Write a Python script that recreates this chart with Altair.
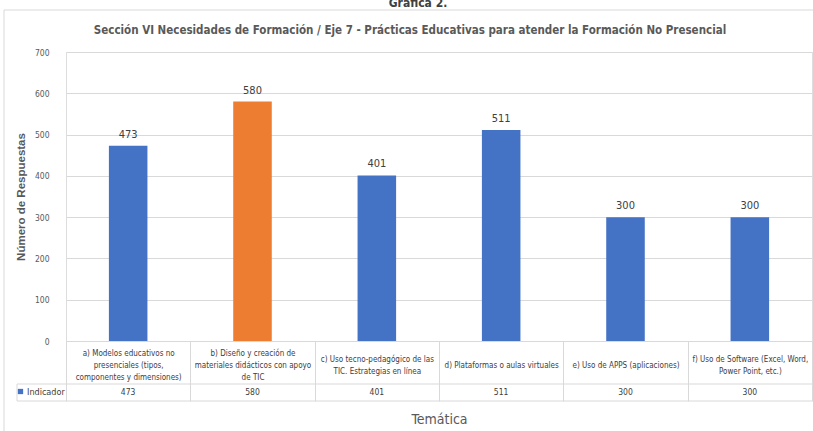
import altair as alt
import pandas as pd

# ---- data ----
etiquetas = [
    ["a) Modelos  educativos  no", "presenciales  (tipos,", "componentes  y dimensiones)"],
    ["b) Diseño y creación de", "materiales didácticos con apoyo", "de TIC"],
    ["c) Uso tecno-pedagógico  de las", "TIC.  Estrategias en línea"],
    ["d) Plataformas o aulas virtuales"],
    ["e) Uso de APPS (aplicaciones)"],
    ["f) Uso de Software  (Excel,  Word,", "Power Point,  etc.)"],
]
valores = [473, 580, 401, 511, 300, 300]
serie = "Indicador"
titulo = "Sección  VI Necesidades  de  Formación  /  Eje 7 - Prácticas  Educativas  para  atender  la Formación  No Presencial"
encabezado = "Gráfica 2."

BLANCO = "\u200b"  # invisible, survives trimming


def etiqueta_centrada(lineas, maximo=3):
    # half-height blank rows so that every header is vertically centred in its cell
    partes = [BLANCO] * (maximo - len(lineas))
    for i, l in enumerate(lineas):
        if i:
            partes.append(BLANCO)
        partes.append(l)
    return "|".join(partes)


categorias = [etiqueta_centrada(l) for l in etiquetas]
df = pd.DataFrame({"tematica": categorias, "valor": valores, "serie": serie})
uno = pd.DataFrame({"k": [0]})

FONT = "DejaVu Sans Condensed, DejaVu Sans, sans-serif"
GRID = "#d9d9d9"
W, H = 746, 289

x_enc = alt.X(
    "tematica:N", sort=None,
    scale=alt.Scale(paddingInner=0, paddingOuter=0),
    axis=alt.Axis(
        title="Temática",
        labelExpr="isValid(datum.value) ? split(datum.value, '|') : ''",
        labelAngle=0,
        labelFont=FONT, labelFontSize=8, labelColor="#404040", labelLineHeight=6,
        labelBaseline="middle", labelPadding=-48, labelLimit=0,
        tickBand="extent", tickSize=60, tickColor=GRID, domainColor=GRID,
        titleFont=FONT, titleFontSize=14, titleColor="#595959", titleFontWeight="normal",
        titlePadding=11,
    ),
)
y_enc = alt.Y(
    "valor:Q",
    scale=alt.Scale(domain=[0, 700]),
    axis=alt.Axis(
        values=[0, 100, 200, 300, 400, 500, 600, 700], title="Número de Respuestas",
        grid=True, gridColor=GRID, domain=False, ticks=False,
        labelFont=FONT, labelFontSize=8.5, labelColor="#595959", labelPadding=17,
        titleFont="Liberation Sans", titleFontSize=11.5, titleFontWeight="bold",
        titleColor="#595959", titleX=-40,
    ),
)

base = alt.Chart(df).encode(x=x_enc)

bars = base.transform_joinaggregate(maximo="max(valor)").mark_bar(
    width=alt.RelativeBandSize(0.31)
).encode(
    y=y_enc,
    color=alt.condition(
        "datum.valor == datum.maximo",
        alt.value("#ED7D31"),
        alt.Color("serie:N", scale=alt.Scale(range=["#4472C4"]),
                  legend=alt.Legend(title=None, orient="none", legendX=-50, legendY=335,
                                    symbolType="square", symbolSize=28, symbolStrokeWidth=0,
                                    labelFont=FONT, labelFontSize=9, labelColor="#404040",
                                    labelOffset=2, padding=0)),
    ),
)

etiq = base.mark_text(baseline="bottom", dy=-6, font=FONT, fontSize=11, color="#404040").encode(
    y="valor:Q", text="valor:Q"
)

fila = base.mark_text(baseline="middle", font=FONT, fontSize=8.5, color="#404040").encode(
    y=alt.value(H + 51), text="valor:Q"
)

linea1 = alt.Chart(uno).mark_rule(color=GRID).encode(
    x=alt.value(-49), x2=alt.value(W), y=alt.value(H + 43))
linea2 = alt.Chart(uno).mark_rule(color=GRID).encode(
    x=alt.value(-49), x2=alt.value(W), y=alt.value(H + 60))
linea3 = alt.Chart(uno).mark_rule(color=GRID).encode(
    x=alt.value(-49), y=alt.value(H + 43), y2=alt.value(H + 60))

marco = alt.Chart(uno).mark_rect(fillOpacity=0, stroke=GRID, strokeWidth=1).encode(
    x=alt.value(-62), y=alt.value(-42), x2=alt.value(W + 20), y2=alt.value(H + 100))

graf = alt.Chart(uno).mark_text(font=FONT, fontSize=12, fontWeight="bold", color="#404040",
                                baseline="middle").encode(
    x=alt.value(352), y=alt.value(-49), text=alt.value(encabezado))

tit = alt.Chart(uno).mark_text(font=FONT, fontSize=11.5, fontWeight="bold", color="#595959",
                               baseline="middle").encode(
    x=alt.value(344), y=alt.value(-21), text=alt.value(titulo))

chart = alt.layer(marco, bars, etiq, fila, linea1, linea2, linea3, graf, tit).properties(
    width=W, height=H,
    autosize="none",
    padding={"left": 66, "top": 52, "right": 1, "bottom": 90},
).configure_view(strokeOpacity=0).configure(background="white")

chart.save("out.html", embed_options={"renderer": "svg", "actions": False})
